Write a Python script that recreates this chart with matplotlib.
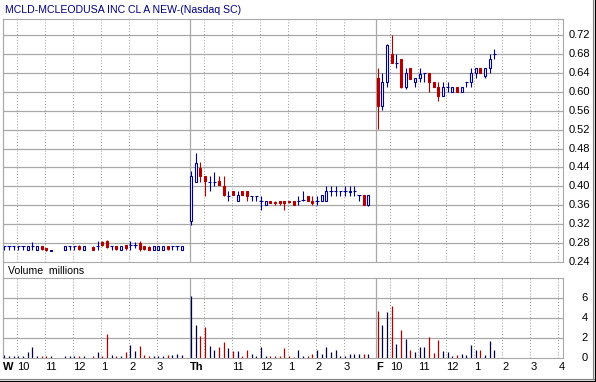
import numpy as np
import matplotlib
matplotlib.use("Agg")
import matplotlib.pyplot as plt
from matplotlib.lines import Line2D
from matplotlib.transforms import blended_transform_factory

plt.rcParams['font.family'] = ['Liberation Sans', 'DejaVu Sans']

N = np.nan
# ---- data: 10-minute candles, three sessions (W, Th, F) ----
w_open  = [0.273,0.273,0.273,0.273,0.273,0.265,0.273,0.265,0.273,0.269,0.264,N,N,
           0.265,0.273,0.273,0.273,0.265,N,0.271,0.273,0.282,0.284,0.273,0.273,0.265,
           0.275,0.276,0.276,0.281,0.273,0.272,0.265,0.265,0.265,0.273,0.273,0.273,0.265]
w_high  = [0.274,0.274,0.274,0.274,0.274,0.274,0.283,0.274,0.274,0.269,0.266,N,N,
           0.274,0.273,0.273,0.275,0.274,N,0.273,0.285,0.284,0.286,0.273,0.274,0.274,
           0.275,0.285,0.283,0.284,0.274,0.273,0.274,0.274,0.274,0.274,0.273,0.274,0.274]
w_low   = [0.265,0.265,0.265,0.265,0.265,0.265,0.265,0.265,0.266,0.264,0.264,N,N,
           0.265,0.265,0.265,0.265,0.265,N,0.265,0.265,0.274,0.269,0.265,0.265,0.265,
           0.265,0.265,0.270,0.264,0.265,0.265,0.265,0.265,0.265,0.266,0.265,0.265,0.265]
w_close = [0.273,0.273,0.273,0.273,0.273,0.273,0.273,0.273,0.267,0.265,0.266,N,N,
           0.273,0.273,0.273,0.267,0.273,N,0.266,0.273,0.276,0.271,0.273,0.268,0.273,
           0.270,0.276,0.276,0.267,0.267,0.266,0.273,0.273,0.273,0.267,0.273,0.273,0.273]

th_open  = [0.326,0.409,0.440,0.421,0.410,0.410,0.411,0.401,0.380,0.390,0.369,0.390,0.390,
            0.380,0.380,0.369,0.361,0.369,0.367,0.369,0.369,0.369,0.369,0.369,0.371,0.380,
            0.369,0.369,0.369,0.369,0.390,0.390,0.390,0.390,0.388,0.390,0.382,0.382,0.361]
th_high  = [0.433,0.470,0.452,0.421,0.421,0.431,0.421,0.421,0.390,0.390,0.390,0.390,0.390,
            0.380,0.380,0.380,0.369,0.369,0.369,0.369,0.369,0.369,0.369,0.380,0.390,0.380,
            0.380,0.380,0.382,0.401,0.401,0.401,0.390,0.401,0.401,0.401,0.382,0.382,0.382]
th_low   = [0.318,0.409,0.409,0.380,0.390,0.401,0.403,0.380,0.369,0.382,0.369,0.382,0.369,
            0.369,0.369,0.350,0.361,0.365,0.360,0.361,0.350,0.365,0.361,0.361,0.369,0.369,
            0.361,0.361,0.369,0.369,0.380,0.380,0.380,0.380,0.380,0.380,0.369,0.361,0.358]
th_close = [0.421,0.450,0.422,0.411,0.410,0.410,0.403,0.382,0.380,0.382,0.382,0.382,0.380,
            0.380,0.380,0.369,0.369,0.365,0.365,0.365,0.365,0.367,0.361,0.369,0.371,0.369,
            0.365,0.369,0.382,0.390,0.390,0.390,0.390,0.390,0.390,0.390,0.382,0.361,0.382]

f_open  = [0.629,0.571,0.620,0.680,0.661,0.670,0.610,0.650,0.620,0.629,0.640,0.640,0.620,
           0.610,0.591,0.610,0.599,0.610,0.599,0.620,0.620,0.640,0.650,0.634,0.650,0.680]
f_high  = [0.650,0.640,0.701,0.720,0.680,0.670,0.650,0.650,0.629,0.650,0.640,0.640,0.620,
           0.620,0.620,0.620,0.610,0.610,0.610,0.620,0.650,0.650,0.650,0.650,0.680,0.690]
f_low   = [0.522,0.561,0.610,0.662,0.650,0.609,0.606,0.627,0.610,0.620,0.620,0.599,0.610,
           0.580,0.591,0.599,0.599,0.599,0.599,0.610,0.610,0.629,0.640,0.629,0.640,0.670]
f_close = [0.571,0.620,0.699,0.662,0.661,0.610,0.640,0.627,0.629,0.638,0.640,0.620,0.610,
           0.592,0.610,0.610,0.610,0.599,0.610,0.620,0.640,0.650,0.640,0.650,0.670,0.680]

# volume in millions
w_vol  = [0.33,0.17,0.17,0.17,0.17,0.57,1.10,0.17,0.17,0.17,0.17,N,N,
          0.17,0.17,0.17,0.17,0.17,N,0.17,0.57,0.17,2.43,0.33,0.23,0.17,
          0.57,1.33,0.67,1.17,0.33,0.17,0.17,0.17,0.17,0.27,0.27,0.43,0.33]
th_vol = [6.23,3.33,2.23,3.07,1.23,0.77,1.10,1.57,1.00,0.67,0.73,0.17,0.77,
          0.43,0.23,1.10,0.23,0.17,0.17,0.17,1.00,0.17,0.13,0.77,0.23,0.23,
          0.43,0.77,0.43,1.10,0.57,0.77,0.23,0.23,0.43,0.43,0.43,0.43,0.43]
f_vol  = [4.67,3.27,4.57,5.17,1.43,2.83,1.93,0.83,0.63,1.10,1.10,2.10,0.50,
          1.83,0.73,0.63,0.17,0.30,0.43,0.33,1.33,0.83,0.83,0.33,1.73,0.77]

title = "MCLD-MCLEODUSA INC CL A NEW-(Nasdaq SC)"
day_labels = ["W", "Th", "F"]
hour_labels = ["10", "11", "12", "1", "2", "3", "4"]
price_ticks = [0.24,0.28,0.32,0.36,0.40,0.44,0.48,0.52,0.56,0.60,0.64,0.68,0.72]
vol_ticks = [0, 2, 4, 6]

# ---- style ----
BLUE = '#000090'
RED = '#b00000'
VBLUE = '#000040'
GRID = '#a8a8a8'
SLOTS = 40

W, H = 596, 382
fig = plt.figure(figsize=(W/100, H/100), dpi=100)
fig.patch.set_facecolor('white')

def fx(px): return px / W
def fy(py): return 1 - py / H

axp = fig.add_axes([fx(3), fy(262), fx(563) - fx(3), fy(19) - fy(262)])
axv = fig.add_axes([fx(3), fy(358), fx(563) - fx(3), fy(278) - fy(358)])

days = [(w_open, w_high, w_low, w_close, w_vol),
        (th_open, th_high, th_low, th_close, th_vol),
        (f_open, f_high, f_low, f_close, f_vol)]

for ax in (axp, axv):
    ax.set_xlim(0, 120)
    for s in ax.spines.values():
        s.set_color(GRID)
        s.set_linewidth(0.8)
    ax.tick_params(length=0)
    ax.set_yticks([])
    for d in range(3):
        if d > 0:
            ax.axvline(SLOTS*d, color=GRID, lw=0.9, zorder=1)
        nh = 7 if d == 2 else 6
        for k in range(nh):
            ax.axvline(SLOTS*d + 3 + 6*k, color='#999999', lw=0.7,
                       ls=(0, (1, 2)), zorder=1)

axp.set_ylim(0.24, 0.24 + 243/472.5)
axp.set_xticks([])
tp = blended_transform_factory(fig.transFigure, axp.transData)
for t in price_ticks:
    if t > price_ticks[0]:
        axp.axhline(t, color=GRID, lw=0.9, zorder=1)
    axp.text(fx(590), t, f"{t:.2f}", transform=tp, ha='right', va='center',
             fontsize=8, clip_on=False)

axv.set_ylim(0, 8)
tv = blended_transform_factory(fig.transFigure, axv.transData)
for t in vol_ticks:
    if t > 0:
        axv.axhline(t, color=GRID, lw=0.9, zorder=1)
    axv.text(fx(588), t, str(t), transform=tv, ha='right', va='center',
             fontsize=8, clip_on=False)

# candles and volume
for d, (o, h, l, c, v) in enumerate(days):
    o = np.array(o, float); h = np.array(h, float)
    l = np.array(l, float); c = np.array(c, float); v = np.array(v, float)
    x = SLOTS*d + np.arange(len(o)) + 0.3
    ok = ~np.isnan(o)
    up = c >= o
    cols = np.where(up, BLUE, RED)
    axp.vlines(x[ok], l[ok], h[ok], colors=cols[ok], lw=0.8, zorder=3)
    doji = ok & (np.abs(c - o) < 1e-9)
    axp.hlines(o[doji], x[doji] - 0.35, x[doji] + 0.35, colors=cols[doji], lw=0.8, zorder=4)
    body = ok & ~doji
    axp.bar(x[body], np.abs(c - o)[body], bottom=np.minimum(o, c)[body], width=0.45,
            facecolor=np.where(up, 'white', RED)[body], edgecolor=cols[body],
            linewidth=0.8, zorder=4)
    vcols = np.where(up, VBLUE, RED)
    okv = ~np.isnan(v)
    axv.vlines(x[okv], 0, v[okv], colors=vcols[okv], lw=0.9, zorder=3)

# x tick labels (left aligned at grid positions)
pos, labs, bold = [], [], []
for d in range(3):
    pos.append(SLOTS*d); labs.append(day_labels[d]); bold.append(True)
    nh = 7 if d == 2 else 6
    for k in range(nh):
        if d == 1 and k == 0:
            continue
        pos.append(SLOTS*d + 3 + 6*k); labs.append(hour_labels[k]); bold.append(False)
axv.set_xticks(pos)
axv.set_xticklabels(labs)
axv.tick_params(axis='x', pad=3, labelsize=8)
for lab, b in zip(axv.get_xticklabels(), bold):
    lab.set_horizontalalignment('left')
    if b:
        lab.set_fontweight('bold')

fig.text(fx(5), fy(10), title, color='#000080', fontsize=7.6, va='center', ha='left')
fig.text(fx(8), fy(271), "Volume  millions", color='black', fontsize=7.6, va='center', ha='left')

# outer frame lines
fig.add_artist(Line2D([fx(2.5), fx(2.5)], [fy(19), fy(358)], color=GRID, lw=0.8))
fig.add_artist(Line2D([0, fx(594)], [fy(379), fy(379)], color='#808080', lw=0.8))
fig.add_artist(Line2D([0, 1], [fy(381), fy(381)], color='black', lw=0.9))
fig.add_artist(Line2D([fx(593), fx(593)], [fy(379), 1], color='#808080', lw=0.8))
fig.add_artist(Line2D([fx(595), fx(595)], [fy(381), 1], color='black', lw=0.9))

fig.savefig("out.png", dpi=100)
